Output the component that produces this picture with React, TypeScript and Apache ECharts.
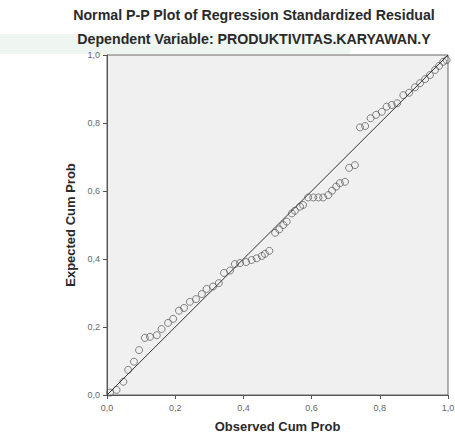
import React, { useEffect, useRef } from "react";
import * as echarts from "echarts";

const titleText = "Normal P-P Plot of Regression Standardized Residual";
const subtitleText = "Dependent Variable: PRODUKTIVITAS.KARYAWAN.Y";
const xName = "Observed Cum Prob";
const yName = "Expected Cum Prob";

const observed: number[] = [
  0.009, 0.028, 0.048, 0.062, 0.079, 0.094, 0.111, 0.126, 0.146, 0.16,
  0.179, 0.194, 0.211, 0.226, 0.243, 0.261, 0.278, 0.292, 0.311, 0.328,
  0.343, 0.361, 0.375, 0.39, 0.408, 0.424, 0.439, 0.454, 0.463, 0.476,
  0.493, 0.505, 0.517, 0.527, 0.542, 0.551, 0.566, 0.575, 0.59, 0.605,
  0.62, 0.634, 0.649, 0.66, 0.672, 0.683, 0.698, 0.71, 0.727, 0.742,
  0.757, 0.773, 0.789, 0.806, 0.82, 0.835, 0.851, 0.869, 0.886, 0.903,
  0.918, 0.933, 0.947, 0.962, 0.974, 0.986, 0.996,
];
const expected: number[] = [
  0.007, 0.015, 0.039, 0.074, 0.098, 0.132, 0.168, 0.171, 0.176, 0.194,
  0.212, 0.224, 0.248, 0.256, 0.274, 0.282, 0.297, 0.312, 0.319, 0.329,
  0.359, 0.366, 0.385, 0.388, 0.391, 0.397, 0.402, 0.409, 0.415, 0.424,
  0.477, 0.487, 0.5, 0.51, 0.534, 0.542, 0.554, 0.559, 0.581, 0.581,
  0.581, 0.581, 0.588, 0.601, 0.613, 0.623, 0.627, 0.668, 0.676, 0.787,
  0.791, 0.814, 0.824, 0.833, 0.848, 0.853, 0.858, 0.882, 0.889, 0.905,
  0.917, 0.929, 0.941, 0.956, 0.968, 0.98, 0.985,
];
const diagonal: number[][] = [
  [0, 0],
  [1, 1],
];

const fmt = (v: number) => v.toFixed(1).replace(".", ",");

export default function App() {
  const ref = useRef<HTMLDivElement>(null);
  useEffect(() => {
    if (!ref.current) return;
    const chart = echarts.init(ref.current, undefined, { renderer: "svg" });
    const font = "Arial, 'Liberation Sans', sans-serif";
    chart.setOption({
      animation: false,
      backgroundColor: "#ffffff",
      graphic: [
        {
          type: "rect",
          shape: { x: 0, y: 34, width: 350, height: 20 },
          style: { fill: "#e4f0e8", opacity: 0.6 },
          z: -10,
        },
        {
          type: "text",
          x: 254,
          y: 15,
          style: {
            text: titleText,
            fontFamily: font,
            fontSize: 14.2,
            fontWeight: "bold",
            fill: "#2a2a2a",
            textAlign: "center",
            textVerticalAlign: "middle",
          },
        },
        {
          type: "text",
          x: 254,
          y: 39,
          style: {
            text: subtitleText,
            fontFamily: font,
            fontSize: 14.2,
            fontWeight: "bold",
            fill: "#2a2a2a",
            textAlign: "center",
            textVerticalAlign: "middle",
          },
        },
      ],
      grid: {
        left: 107,
        right: 7,
        top: 55,
        bottom: 41,
        containLabel: false,
        outerBoundsMode: "none",
        show: true,
        backgroundColor: "#f0f0f0",
        borderColor: "#666",
        borderWidth: 1,
      },
      xAxis: {
        type: "value",
        min: 0,
        max: 1,
        interval: 0.2,
        name: xName,
        nameLocation: "middle",
        nameGap: 25,
        nameTextStyle: { fontFamily: font, fontSize: 13, fontWeight: "bold", color: "#2a2a2a" },
        axisLine: { show: true, lineStyle: { color: "#555" } },
        axisTick: { show: true, length: 4, lineStyle: { color: "#555" } },
        axisLabel: { formatter: fmt, fontFamily: font, fontSize: 9, color: "#666", margin: 8 },
        splitLine: { show: false },
      },
      yAxis: {
        type: "value",
        min: 0,
        max: 1,
        interval: 0.2,
        name: yName,
        nameLocation: "middle",
        nameGap: 28,
        nameTextStyle: { fontFamily: font, fontSize: 13, fontWeight: "bold", color: "#2a2a2a" },
        axisLine: { show: true, lineStyle: { color: "#555" } },
        axisTick: { show: true, length: 4, lineStyle: { color: "#555" } },
        axisLabel: { formatter: fmt, fontFamily: font, fontSize: 9, color: "#666", margin: 7 },
        splitLine: { show: false },
      },
      series: [
        {
          type: "line",
          data: diagonal,
          symbol: "none",
          lineStyle: { color: "#333", width: 1 },
          silent: true,
        },
        {
          type: "scatter",
          data: observed.map((x, i) => [x, expected[i]]),
          symbol: "circle",
          symbolSize: 7,
          itemStyle: { color: "rgba(0,0,0,0)", borderColor: "#555", borderWidth: 0.9 },
        },
      ],
    });
    return () => chart.dispose();
  }, []);
  return (
    <div
      ref={ref}
      style={{ position: "fixed", left: 0, top: 0, width: 455, height: 436 }}
    />
  );
}
